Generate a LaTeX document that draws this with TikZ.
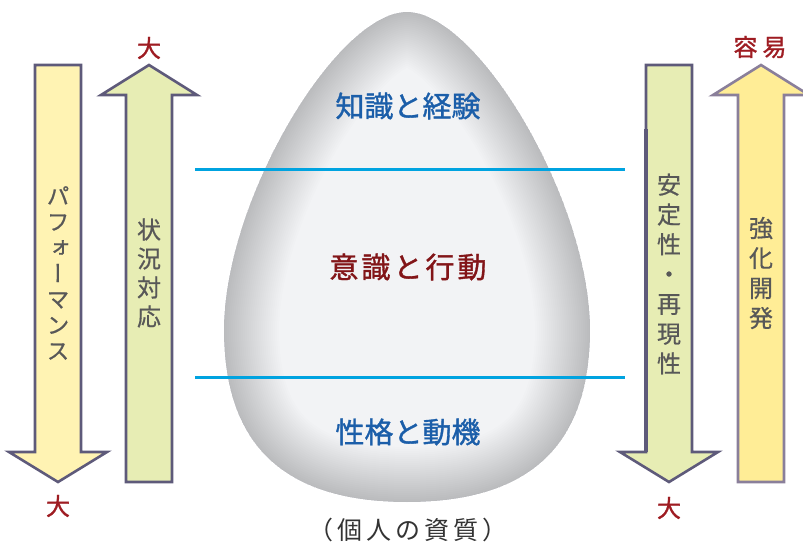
\documentclass[tikz,border=0pt]{standalone}
\usepackage{fontspec}
\newfontfamily\jp{Noto Sans CJK JP}
\newfontfamily\jpb[FakeBold=1.2]{Noto Sans CJK JP}
\newfontfamily\jpv[RawFeature={+vert},FakeBold=0.6]{Noto Sans CJK JP}
\definecolor{arrowline}{HTML}{5E5A7A}
\definecolor{arrowlinelt}{HTML}{8A7F9A}
\definecolor{fillyellow}{HTML}{FFF3B3}
\definecolor{fillyellow2}{HTML}{FFED96}
\definecolor{fillgreen}{HTML}{E7EDB4}
\definecolor{textgray}{HTML}{585858}
\definecolor{labelred}{HTML}{9E1C22}
\definecolor{eggblue}{HTML}{1B5EA9}
\definecolor{eggred}{HTML}{821518}
\definecolor{eggbase}{HTML}{F2F3F5}
\definecolor{eggedge}{HTML}{5A5A64}
\definecolor{cyanline}{HTML}{00A3E0}
\definecolor{notegray}{HTML}{333333}
\def\eggpath{(407,502) .. controls (529,502) and (590,446) .. (590,330) .. controls (590,200) and (477,12) .. (407,12) .. controls (337,12) and (224,200) .. (224,330) .. controls (224,446) and (285,502) .. (407,502) -- cycle}
\begin{document}
\begin{tikzpicture}[x=1pt,y=-1pt,
  arrowbox/.style={draw=arrowline,line width=2.6pt,line join=miter},
  vtext/.style={align=center,inner sep=0pt,text=textgray},
  endlabel/.style={inner sep=0pt,text=labelred,font=\jpb\fontsize{24}{24}\selectfont},
  eggtext/.style={inner sep=0pt,font=\jpb\fontsize{29}{29}\selectfont},
  layerline/.style={draw=cyanline,line width=3pt}]
\useasboundingbox (0,0) rectangle (803,543);

% egg
\begin{scope}
  \clip \eggpath;
  \fill[eggbase] \eggpath;
  \foreach \w in {2,6,...,110}
    \draw[line width=\w pt,draw=eggedge,draw opacity=0.013] \eggpath;
\end{scope}

% layer lines
\coordinate (l1a) at (195,169);
\coordinate (l1b) at (625,169);
\coordinate (l2a) at (195,377);
\coordinate (l2b) at (625,377);
\draw[layerline] (l1a) -- (l1b);
\draw[layerline] (l2a) -- (l2b);

% egg texts
\node[eggtext,text=eggblue] (know) at (408,106) {知識と経験};
\node[eggtext,text=eggred] (aware) at (408,267) {意\kern3pt 識\kern3pt と\kern3pt 行\kern3pt 動};
\node[eggtext,text=eggblue] (pers) at (408,432) {性格と動機};
\node[inner sep=0pt,text=notegray,font=\jp\fontsize{25}{25}\selectfont] (note) at (408,530) {（\kern4pt 個\kern4pt 人\kern4pt の\kern4pt 資\kern4pt 質\kern4pt ）};

% arrow 1: performance (down)
\draw[arrowbox,fill=fillyellow] (35,65) -- (81,65) -- (81,452) -- (107,452) -- (58,482) -- (9,452) -- (35,452) -- cycle;
% arrow 2: situation (up)
\draw[arrowbox,fill=fillgreen] (126,482) -- (172,482) -- (172,95) -- (197,95) -- (149,65) -- (101,95) -- (126,95) -- cycle;
% arrow 3: stability (down)
\draw[arrowbox,fill=fillgreen] (646,65) -- (692,65) -- (692,452) -- (718,452) -- (669,482) -- (620,452) -- (646,452) -- cycle;
\draw[draw=arrowline,line width=4.3pt] (646,129) -- (646,452);
% arrow 4: development (up)
\draw[arrowbox,draw=arrowlinelt,fill=fillyellow2] (738,482) -- (784,482) -- (784,95) -- (809,95) -- (761,65) -- (713,95) -- (738,95) -- cycle;

% arrow texts
\node[vtext,font=\jpv\fontsize{23}{25.8}\selectfont] (perf) at (58,273) {パ\\フ\\ォ\\ー\\マ\\ン\\ス};
\node[vtext,font=\jpv\fontsize{24}{29}\selectfont] (situ) at (149,273) {状\\況\\対\\応};
\node[vtext,font=\jpv\fontsize{24}{29.8}\selectfont] (stab) at (669,274) {安\\定\\性\\・\\再\\現\\性};
\node[vtext,font=\jpv\fontsize{24}{30}\selectfont] (dev) at (761,273) {強\\化\\開\\発};

% end labels
\node[endlabel] (big1) at (149,48) {大};
\node[endlabel] (big2) at (58,506) {大};
\node[endlabel] (big3) at (669,508) {大};
\node[endlabel] (easy) at (760,47) {容\kern5pt 易};
\end{tikzpicture}
\end{document}
